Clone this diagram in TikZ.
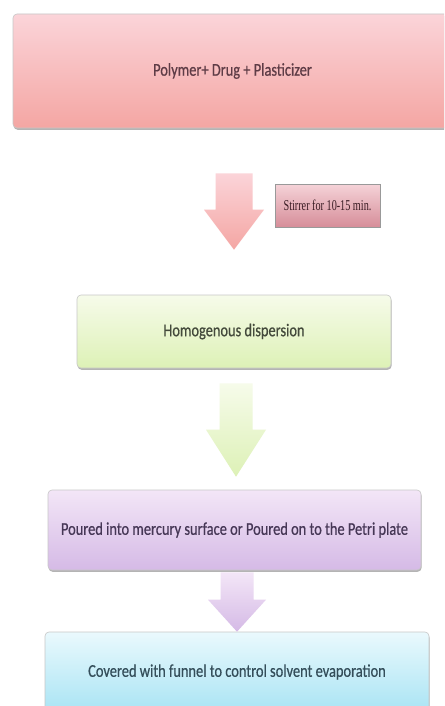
\documentclass[tikz,border=0pt]{standalone}
\usepackage{fontspec}
\newfontfamily\boxfont[FakeStretch=0.8,FakeBold=0.6]{Carlito}
\newfontfamily\notefont[FakeStretch=0.68]{Liberation Serif}
\usetikzlibrary{shadows,calc}

\definecolor{pinkTop}{HTML}{FBD4D9}
\definecolor{pinkBot}{HTML}{F4A6A3}
\definecolor{greenTop}{HTML}{F6FBEA}
\definecolor{greenBot}{HTML}{DDF1B6}
\definecolor{lilacTop}{HTML}{F3E6F7}
\definecolor{lilacBot}{HTML}{D5BAE6}
\definecolor{cyanTop}{HTML}{EAF9FD}
\definecolor{cyanBot}{HTML}{A9E4F4}
\definecolor{noteTop}{HTML}{F5D3D8}
\definecolor{noteBot}{HTML}{D68D99}
\definecolor{pinkText}{HTML}{5E3C46}
\definecolor{greenText}{HTML}{444A3C}
\definecolor{lilacText}{HTML}{463756}
\definecolor{cyanText}{HTML}{344E5A}
\definecolor{noteText}{HTML}{3A1C24}

% block arrow: #1 shaft top, #2 tip, #3 head length, #4 shaft half width,
% #5 head half width, #6 top colour, #7 bottom colour
\newcommand\flowarrow[7]{%
  \shade[top color=#6, bottom color=#7] let \p1=(#1), \p2=(#2) in
    (\x1-#4,\y1) -- (\x1+#4,\y1) -- (\x1+#4,\y2+#3) -- (\x1+#5,\y2+#3)
    -- (\x1,\y2) -- (\x1-#5,\y2+#3) -- (\x1-#4,\y2+#3) -- cycle;}

\begin{document}
\begin{tikzpicture}[x=1pt,y=-1pt,
  stage/.style={rectangle, rounded corners=4pt, draw=black!22, line width=0.6pt,
    drop shadow={shadow xshift=0.6pt, shadow yshift=-1.8pt, opacity=0.45, fill=black!65},
    font=\boxfont\fontsize{18}{20}\selectfont, align=center, inner sep=0pt},
  note/.style={rectangle, draw=black!40, line width=0.7pt,
    top color=noteTop, bottom color=noteBot, text=noteText,
    drop shadow={shadow xshift=0.5pt, shadow yshift=-1pt, opacity=0.35, fill=black!60},
    font=\notefont\fontsize{15}{17}\selectfont, inner sep=0pt}]

  \clip (0,0) rectangle (444,706);
  \fill[white] (0,0) rectangle (444,706);

  % process stages
  \node[stage, top color=pinkTop, bottom color=pinkBot, text=pinkText,
        minimum width=439pt, minimum height=114pt] (b1) at (232.5,71)
        {Polymer+ Drug + Plasticizer};
  \node[stage, top color=greenTop, bottom color=greenBot, text=greenText,
        minimum width=314pt, minimum height=73pt] (b2) at (234,331.5)
        {Homogenous dispersion};
  \node[stage, top color=lilacTop, bottom color=lilacBot, text=lilacText,
        minimum width=373pt, minimum height=80pt] (b3) at (234.5,530)
        {Poured into mercury surface or Poured on to the Petri plate};
  \node[stage, top color=cyanTop, bottom color=cyanBot, text=cyanText,
        minimum width=384pt, minimum height=80pt] (b4) at (237,672)
        {Covered with funnel to control solvent evaporation};

  % side note on the first step
  \node[note, minimum width=105pt, minimum height=43pt] (n1) at (327.5,205.5)
        {Stirrer for 10-15 min.};

  % block arrows between the stages
  \coordinate (a1s) at ($(b1.south)+(1.5,45)$);
  \coordinate (a1e) at ($(b2.north)+(0,-45)$);
  \flowarrow{a1s}{a1e}{40pt}{18.5pt}{30pt}{pinkTop}{pinkBot}

  \coordinate (a2s) at ($(b2.south)+(2,15)$);
  \coordinate (a2e) at ($(b3.north)+(0,-13)$);
  \flowarrow{a2s}{a2e}{47pt}{16.5pt}{30pt}{greenTop}{greenBot}

  \coordinate (a3s) at ($(b3.south)+(2.5,2)$);
  \coordinate (a3e) at ($(b4.north)+(0,0)$);
  \flowarrow{a3s}{a3e}{32pt}{16.5pt}{29pt}{lilacTop}{lilacBot}
\end{tikzpicture}
\end{document}
